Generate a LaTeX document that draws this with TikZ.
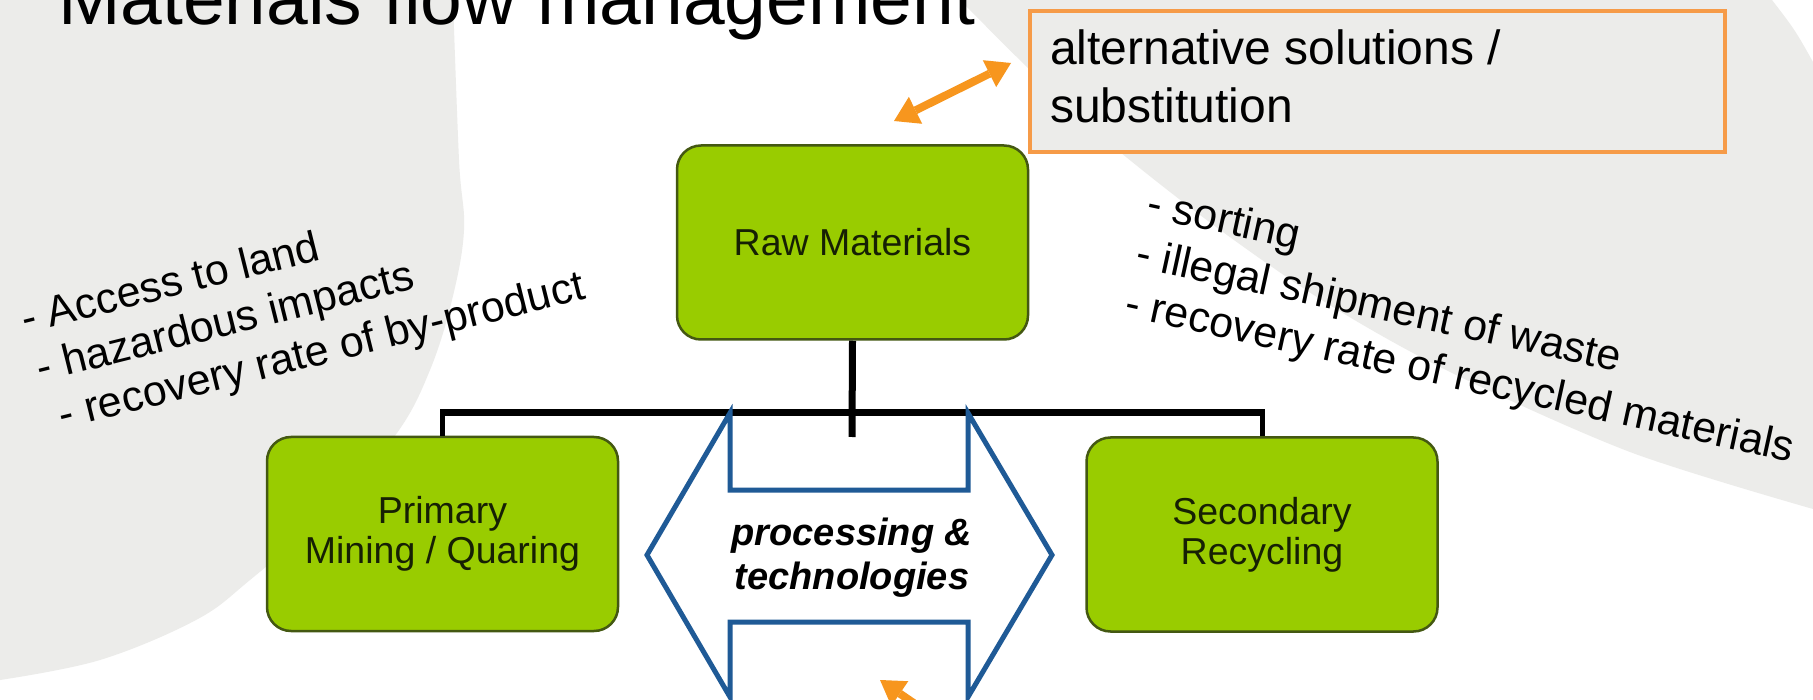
\documentclass[tikz,border=0pt]{standalone}
\usepackage{fontspec}
\setmainfont{Liberation Sans}
\usetikzlibrary{arrows.meta}
\definecolor{bggray}{RGB}{236,236,234}
\definecolor{greenfill}{RGB}{153,204,0}
\definecolor{greenedge}{RGB}{68,88,18}
\definecolor{boxtext}{RGB}{22,32,4}
\definecolor{bluearr}{RGB}{31,90,150}
\definecolor{orangearr}{RGB}{247,150,30}
\definecolor{orangeedge}{RGB}{246,155,72}
\begin{document}
\begin{tikzpicture}[x=1pt,y=-1pt,line join=miter,
  greenbox/.style={draw=greenedge, line width=2.5pt, fill=greenfill, rounded corners=24pt,
    minimum width=351pt, minimum height=194pt, align=center, inner sep=0pt, text=boxtext,
    font=\fontsize{37.5}{40}\selectfont},
  listtext/.style={anchor=north west, align=left, inner sep=0pt, font=\fontsize{43}{51}\selectfont},
  alttext/.style={anchor=base west, inner sep=0pt, font=\fontsize{48}{56}\selectfont},
  proctext/.style={align=center, inner sep=0pt, font=\fontsize{38}{44}\selectfont\bfseries\itshape},
  altbox/.style={draw=orangeedge, line width=4pt, fill=bggray, minimum width=695pt,
    minimum height=141pt, inner sep=0pt},
  stem/.style={draw=black, line width=7pt},
  bar/.style={draw=black, line width=7pt},
  side/.style={draw=black, line width=5pt},
  bluelink/.style={draw=bluearr, line width=5pt},
  orangelink/.style={draw=orangearr, line width=8pt}]
\path[use as bounding box] (0,0) rectangle (1813,700);
\clip (0,0) rectangle (1813,700);
\fill[white] (0,0) rectangle (1813,700);
% background shapes
\fill[bggray] (0,0) -- plot[smooth, tension=0.6] coordinates {(453,0) (459,160) (464,230) (452,300) (430,370) (397,433) (330,510) (250,580) (196,620) (100,660) (0,680)} -- cycle;
\fill[bggray] plot[smooth] coordinates {(960,0) (1080,118) (1200,215) (1320,299) (1446,370) (1630,452) (1813,509)} -- (1813,62) .. controls (1795,30) .. (1772,0) -- cycle;
% title
\node[anchor=base west, inner sep=0pt, font=\fontsize{75}{84}\selectfont] (title) at (58,25) {Materials flow management};
% left list
\begin{scope}[shift={(25,333)}, rotate=14, transform shape]
  \node[listtext] (leftlist) at (0,-30.8) {- Access to land\\\hspace*{3pt}- hazardous impacts\\\hspace*{13pt}- recovery rate of by-product};
\end{scope}
% right list
\begin{scope}[shift={(1145,216)}, rotate=-12.3, transform shape]
  \node[listtext] (rightlist) at (0,-30.8) {- sorting\\- illegal shipment of waste\\- recovery rate of recycled materials};
\end{scope}
% alternative box
\node[altbox] (alt) at (1377.5,81.5) {};
\node[alttext] (alt1) at (1050,65) {alternative solutions /};
\node[alttext] (alt2) at (1050,123) {substitution};
% orange arrows
\coordinate (oa1) at (894,121);
\coordinate (oa2) at (1011,63);
\draw[orangelink, {Triangle[length=24pt,width=30pt,line width=0pt]}-{Triangle[length=24pt,width=30pt,line width=0pt]}] (oa1) -- (oa2);
\coordinate (ob1) at (985,752);
\coordinate (ob2) at (880,680);
\draw[orangelink, -{Triangle[length=24pt,width=30pt,line width=0pt]}] (ob1) -- (ob2);
% green boxes
\node[greenbox] (raw) at (852.5,242.5) {Raw Materials};
\node[greenbox] (prim) at (442.5,534) {Primary\\Mining / Quaring};
\node[greenbox] (sec) at (1262,534.5) {Secondary\\Recycling};
% connectors
\coordinate (hub) at (852,413);
\coordinate (stub) at (852,437);
\draw[stem] (raw.south) -- (stub);
\draw[bar, shorten <=-2.5pt, shorten >=-2.5pt] (prim.north |- hub) -- (sec.north |- hub);
\draw[side] (prim.north |- hub) -- (prim.north);
\draw[side] (sec.north |- hub) -- (sec.north);
% processing double arrow
\draw[bluelink] (647,555) -- (730,413) -- (730,490) -- (968,490) -- (968,413) -- (1052,555)
  -- (968,697) -- (968,622) -- (730,622) -- (730,697) -- cycle;
\node[proctext] (proc) at (852,558) {processing \&\\technologies};
\end{tikzpicture}
\end{document}
